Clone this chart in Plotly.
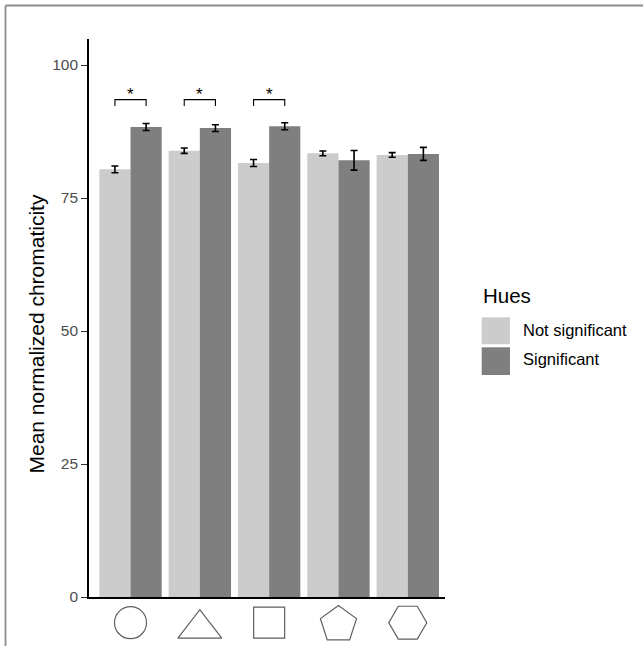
import plotly.graph_objects as go

# ---------------- data ----------------
categories = ["Circle", "Triangle", "Square", "Pentagon", "Hexagon"]
not_sig_mean = [80.4, 83.9, 81.6, 83.4, 83.1]
not_sig_err = [0.63, 0.50, 0.66, 0.44, 0.44]
sig_mean = [88.35, 88.15, 88.5, 82.1, 83.3]
sig_err = [0.66, 0.63, 0.66, 1.85, 1.22]
sig_groups = [0, 1, 2]          # categories with a significant difference
bracket_top = 93.5
bracket_tip = 92.3
y_ticks = [0, 25, 50, 75, 100]
series_names = ["Not significant", "Significant"]
legend_title = "Hues"
y_title = "Mean normalized chromaticity"

# ---------------- style / layout geometry ----------------
FONT = "Liberation Sans, Arial, sans-serif"
LIGHT = "#CCCCCC"
DARK = "#7F7F7F"
W, H = 643, 646
ML, MR, MT = 89, 198, 39
PLOT_BOTTOM = 597           # pixel row of the x axis line
STRIP = H - PLOT_BOTTOM      # pixel height of the glyph strip below the axis
AREA_H = H - MT
x = list(range(len(categories)))

glyph_style = {
    "Circle":   dict(symbol="circle-open", size=32, dy=0.0),
    "Triangle": dict(symbol="triangle-up-open", size=38, dy=-6.0),
    "Square":   dict(symbol="square-open", size=31, dy=0.0),
    "Pentagon": dict(symbol="pentagon-open", size=38, dy=-1.8),
    "Hexagon":  dict(symbol="hexagon2-open", size=38, dy=0.0),
}
label_center = H - 622.7     # pixels above the bottom of the figure

fig = go.Figure()
fig.add_trace(go.Bar(
    x=x, y=not_sig_mean, name=series_names[0], marker_color=LIGHT,
    marker_line_width=0,
    error_y=dict(type="data", array=not_sig_err, color="black", thickness=1.6, width=3.5),
))
fig.add_trace(go.Bar(
    x=x, y=sig_mean, name=series_names[1], marker_color=DARK,
    marker_line_width=0,
    error_y=dict(type="data", array=sig_err, color="black", thickness=1.6, width=3.5),
))

# shape glyphs used as category labels (own strip under the x axis)
fig.add_trace(go.Scatter(
    x=x,
    y=[label_center + glyph_style[c]["dy"] for c in categories],
    xaxis="x2", yaxis="y2",
    mode="markers",
    marker=dict(
        symbol=[glyph_style[c]["symbol"] for c in categories],
        size=[glyph_style[c]["size"] for c in categories],
        color="#1a1a1a",
        line=dict(color="#1a1a1a", width=1.2),
    ),
    cliponaxis=False,
    showlegend=False,
    hoverinfo="skip",
))

shapes = []
annotations = []
half = 0.225
for i in sig_groups:
    shapes.append(dict(
        type="path", xref="x", yref="y",
        path=f"M {i-half},{bracket_tip} L {i-half},{bracket_top} L {i+half},{bracket_top} L {i+half},{bracket_tip}",
        line=dict(color="black", width=1.1),
    ))
    annotations.append(dict(
        x=i, y=bracket_top, xref="x", yref="y", text="*", showarrow=False,
        yanchor="bottom", yshift=-6, font=dict(family=FONT, size=17, color="black"),
    ))


def px_x(p):
    return (p - ML) / float(W - ML - MR)


def px_y(p):
    return (H - p) / float(AREA_H)


# outer frame lines (top and left)
shapes.append(dict(type="line", xref="paper", yref="paper", x0=px_x(5.5), x1=1.7,
                   y0=px_y(5.5), y1=px_y(5.5), line=dict(color="#8c8c8c", width=1.8)))
shapes.append(dict(type="line", xref="paper", yref="paper", x0=px_x(5.5), x1=px_x(5.5),
                   y0=-0.2, y1=px_y(5.5), line=dict(color="#8c8c8c", width=1.8)))

# legend drawn manually to match key sizes
shapes.append(dict(type="rect", xref="paper", yref="paper", x0=px_x(481.7), x1=px_x(510),
                   y0=px_y(344.3), y1=px_y(317.3), fillcolor=LIGHT, line_width=0))
shapes.append(dict(type="rect", xref="paper", yref="paper", x0=px_x(481.7), x1=px_x(510),
                   y0=px_y(375), y1=px_y(347.3), fillcolor=DARK, line_width=0))
annotations.append(dict(x=px_x(481), y=px_y(295), xref="paper", yref="paper", text=legend_title,
                        showarrow=False, xanchor="left", yanchor="middle",
                        font=dict(family=FONT, size=20.5, color="black")))
annotations.append(dict(x=px_x(521), y=px_y(330), xref="paper", yref="paper", text=series_names[0],
                        showarrow=False, xanchor="left", yanchor="middle",
                        font=dict(family=FONT, size=16.5, color="black")))
annotations.append(dict(x=px_x(521), y=px_y(359), xref="paper", yref="paper", text=series_names[1],
                        showarrow=False, xanchor="left", yanchor="middle",
                        font=dict(family=FONT, size=16.5, color="black")))
# y axis title
annotations.append(dict(x=px_x(36), y=px_y(334.5), xref="paper", yref="paper", text=y_title,
                        showarrow=False, textangle=-90, xanchor="center", yanchor="middle",
                        font=dict(family=FONT, size=21, color="black")))

strip_frac = STRIP / float(AREA_H)
fig.update_layout(
    width=W, height=H,
    margin=dict(l=ML, r=MR, t=MT, b=0, pad=0),
    paper_bgcolor="white", plot_bgcolor="white",
    barmode="group", bargap=0.1, bargroupgap=0,
    showlegend=False,
    font=dict(family=FONT),
    shapes=shapes, annotations=annotations,
    xaxis=dict(range=[-0.599, 4.537], showgrid=False, zeroline=False, automargin=False,
               showline=True, linecolor="black", linewidth=1.6,
               tickvals=x, showticklabels=False, ticks="", anchor="y"),
    yaxis=dict(domain=[strip_frac, 1], range=[0, 104.9], showgrid=False, zeroline=False,
               automargin=False,
               showline=True, linecolor="black", linewidth=1.6,
               tickvals=y_ticks, ticks="outside", ticklen=6, tickwidth=1.2,
               tickcolor="#333333",
               tickfont=dict(family=FONT, size=15.5, color="#4D4D4D")),
    xaxis2=dict(range=[-0.599, 4.537], anchor="y2", visible=False, automargin=False),
    yaxis2=dict(domain=[0, strip_frac], range=[0, STRIP], anchor="x2", visible=False,
                automargin=False),
)

fig.write_html("out.html", post_script="document.body.style.margin='0';",
               config={"displayModeBar": False})
